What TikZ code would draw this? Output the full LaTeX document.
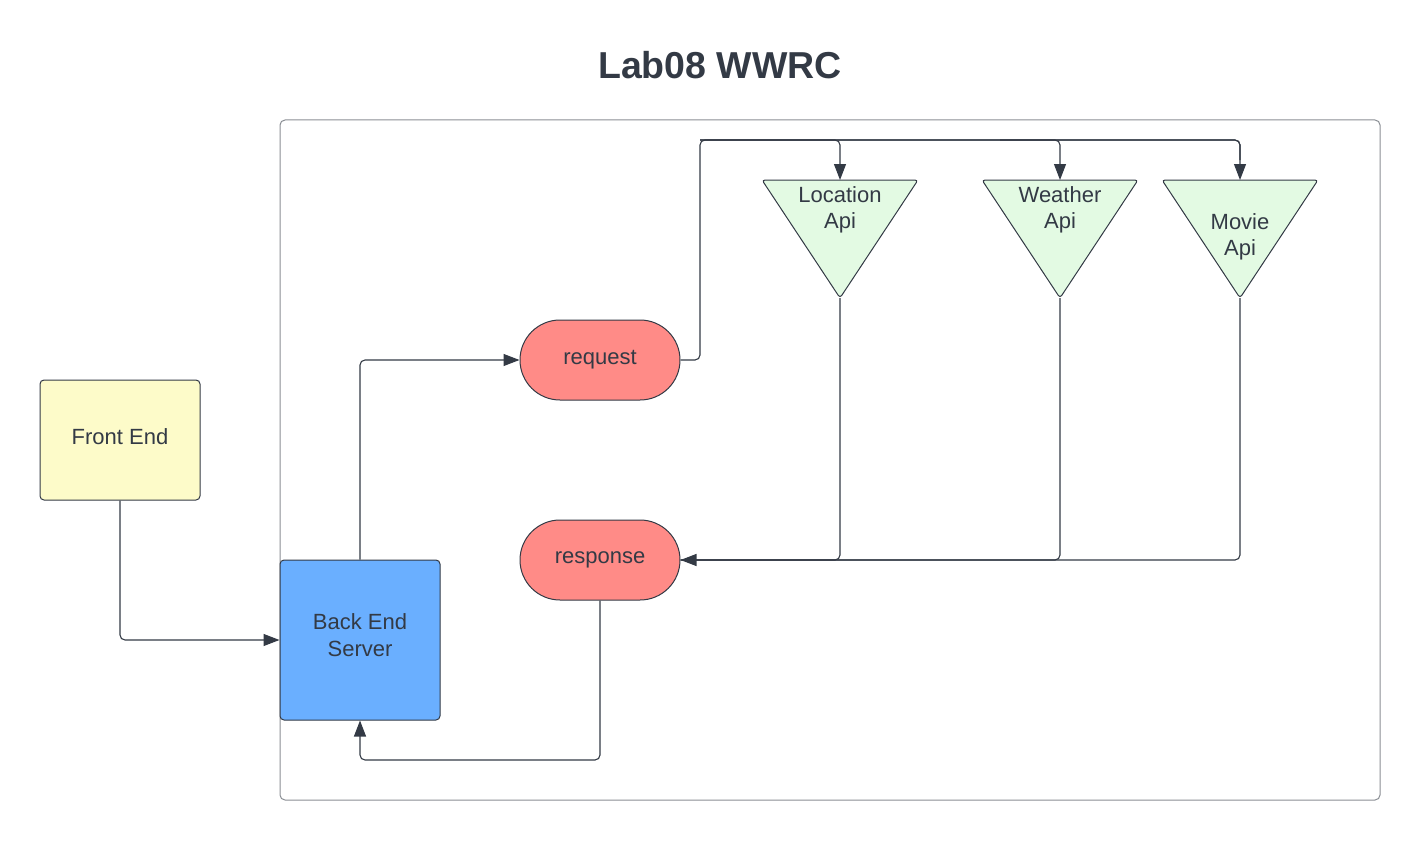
\documentclass[tikz,border=0pt]{standalone}
\usepackage{fontspec}
\setmainfont{Liberation Sans}
\usetikzlibrary{arrows.meta}
\definecolor{ink}{HTML}{333A45}
\definecolor{frame}{HTML}{8A8E94}
\definecolor{yellowfill}{HTML}{FDFBC9}
\definecolor{bluefill}{HTML}{6AAFFF}
\definecolor{redfill}{HTML}{FF8B87}
\definecolor{greenfill}{HTML}{E3FAE3}
\tikzset{
  box/.style={draw=ink, line width=1pt, rounded corners=4pt, minimum width=160pt, minimum height=120pt, inner sep=0pt},
  pill/.style={draw=ink, line width=1pt, rounded corners=40pt, minimum width=160pt, minimum height=80pt, inner sep=0pt, fill=redfill, text=ink, font=\fontsize{22}{27}\selectfont},
  tri/.style={draw=ink, line width=1pt, fill=greenfill, rounded corners=3pt},
  lbl/.style={align=center, text=ink, inner sep=0pt, font=\fontsize{22}{27}\selectfont},
  trilabel/.style={align=center, text=ink, font=\fontsize{22}{26}\selectfont},
  conn/.style={draw=ink, line width=1.1pt, rounded corners=5pt},
  arr/.style={conn, -{Triangle[length=16pt,width=12pt]}},
}
\begin{document}
\begin{tikzpicture}[x=1pt,y=-1pt]
\useasboundingbox (0,0) rectangle (1420,840);
% title
\node[text=ink, font=\fontsize{37.5}{40}\selectfont\bfseries] (title) at (720,65) {Lab08 WWRC};
% container
\draw[frame, line width=1pt, rounded corners=5pt] (280,120) rectangle (1380,800);
% nodes
\node[box, fill=yellowfill] (front) at (120,440) {};
\node[lbl] (frontT) at (120,437) {Front End};
\node[box, fill=bluefill, minimum height=160pt] (back) at (360,640) {};
\node[lbl] (backT) at (360,635.5) {Back End\\Server};
\node[pill] (req) at (600,360) {request};
\node[pill] (resp) at (600,560) {response};
% triangles
\coordinate (locTop) at (840,180); \coordinate (locApex) at (840,298);
\coordinate (weaTop) at (1060,180); \coordinate (weaApex) at (1060,298);
\coordinate (movTop) at (1240,180); \coordinate (movApex) at (1240,298);
\draw[tri] (762,180) -- (918,180) -- (locApex) -- cycle;
\draw[tri] (982,180) -- (1138,180) -- (weaApex) -- cycle;
\draw[tri] (1162,180) -- (1318,180) -- (movApex) -- cycle;
\node[trilabel] (loc) at (840,210) {Location\\Api};
\node[trilabel] (wea) at (1060,210) {Weather\\Api};
\node[trilabel] (mov) at (1240,237) {Movie\\Api};
% connectors
\draw[arr] (front.south) |- (back.west);
\draw[arr] (back.north) |- (req.west);
\draw[conn] (req.east) -- (700,360) -- (700,140) -- (1240,140) -- (1240,160);
\draw[arr] (700,140) -| (locTop);
\draw[arr] (700,140) -| (weaTop);
\draw[arr] (1000,140) -| (movTop);
\draw[conn] (locApex) |- (resp.east);
\draw[conn] (weaApex) |- (resp.east);
\draw[arr] (movApex) |- (resp.east);
\draw[arr] (resp.south) -- (600,760) -| (back.south);
\end{tikzpicture}
\end{document}
